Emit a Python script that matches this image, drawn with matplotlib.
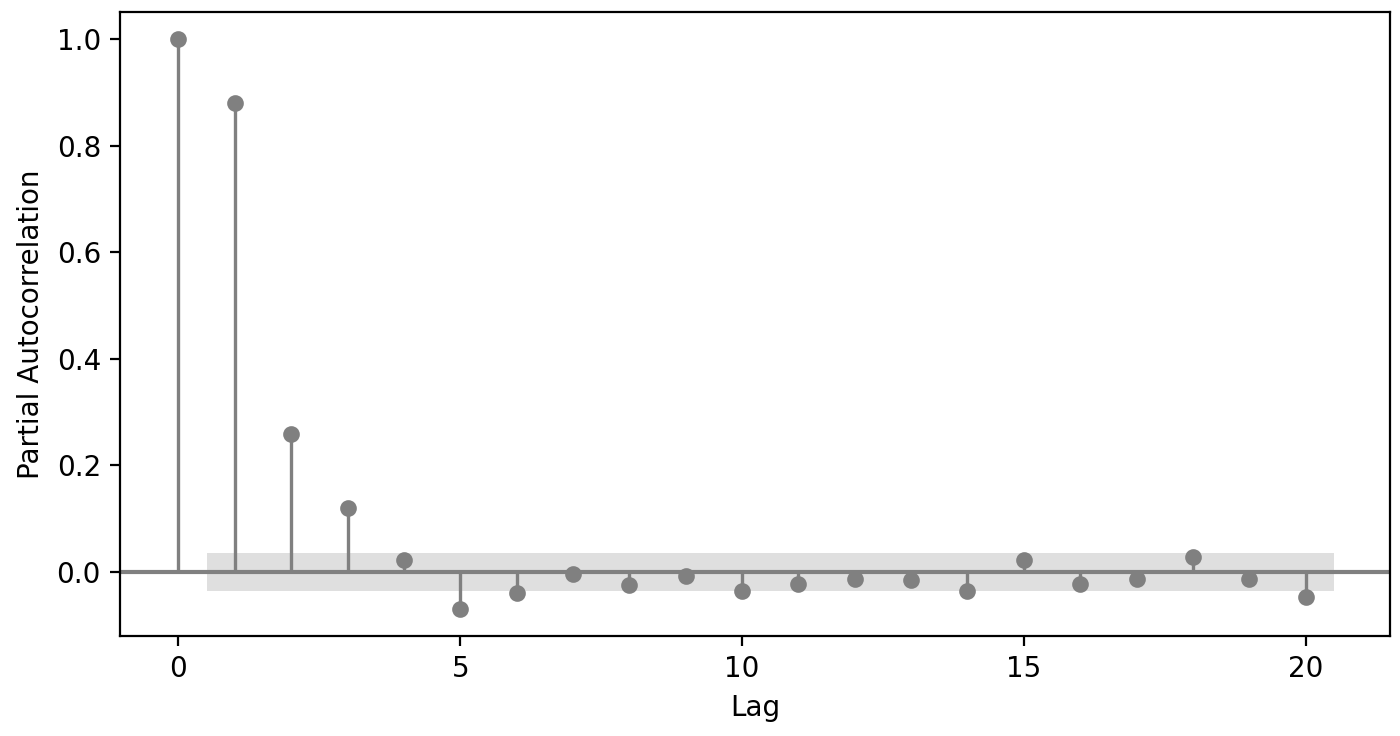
import numpy as np
import matplotlib.pyplot as plt

lags = np.arange(0, 21)
pacf_vals = [1.0, 0.88, 0.259, 0.12, 0.022, -0.07, -0.039, -0.003, -0.025, -0.008,
             -0.035, -0.023, -0.013, -0.015, -0.035, 0.022, -0.023, -0.013, 0.028,
             -0.013, -0.047]
conf_half = 0.0355

fig, ax = plt.subplots(figsize=(7, 3.68), dpi=200)

ax.vlines(lags, 0, pacf_vals, colors='gray', lw=1.2)
ax.plot(lags, pacf_vals, 'o', color='gray', markersize=5)
ax.axhline(0, color='gray', lw=1.5)

band_x = lags[1:].astype(float)
band_x[0] -= 0.5
band_x[-1] += 0.5
ax.fill_between(band_x, -conf_half, conf_half, color='gray', alpha=0.25, lw=0)

ax.set_xlim(-1.03, 21.5)
ax.set_ylim(-0.12, 1.051)
ax.set_xticks([0, 5, 10, 15, 20])
ax.set_xlabel('Lag')
ax.set_ylabel('Partial Autocorrelation')

fig.subplots_adjust(left=0.086, right=0.993, top=0.984, bottom=0.136)
fig.savefig('out.png')
